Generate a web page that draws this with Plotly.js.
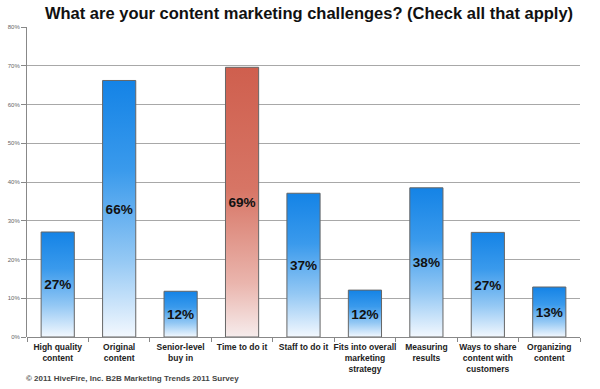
<!DOCTYPE html>
<html><head><meta charset="utf-8">
<script src="https://cdn.plot.ly/plotly-3.0.1.min.js"></script>
<style>html,body{margin:0;padding:0;background:#fff}#chart{width:600px;height:389px}</style>
</head><body><div id="chart"></div>
<script>
const categories = ["High quality<br>content","Original<br>content","Senior-level<br>buy in","Time to do it","Staff to do it","Fits into overall<br>marketing<br>strategy","Measuring<br>results","Ways to share<br>content with<br>customers","Organizing<br>content"];
const values = [27.1, 66.2, 11.8, 69.6, 37.1, 12.1, 38.5, 27.0, 12.9];
const pctLabels = ["27%","66%","12%","69%","37%","12%","38%","27%","13%"];
const highlight = [0,0,0,1,0,0,0,0,0];
const yTickVals = [0,10,20,30,40,50,60,70,80];
const yTickText = ["0%","10%","20%","30%","40%","50%","60%","70%","80%"];

const trace = {
  type: 'bar', x: categories, y: values, text: pctLabels,
  textposition: 'inside', insidetextanchor: 'middle', textangle: 0,
  textfont: {family: 'Liberation Sans, Arial, sans-serif', size: 15, color: '#111', weight: 'bold'},
  marker: {color: highlight.map(h => h ? '#d0604f' : '#1a86e6'), line: {color: '#666', width: 1}},
  hoverinfo: 'none', cliponaxis: false
};
const layout = {
  width: 600, height: 389,
  margin: {l: 27, r: 20, t: 27, b: 52},
  paper_bgcolor: '#fff', plot_bgcolor: '#fff',
  bargap: 0.46, showlegend: false,
  title: {text: '<b>What are your content marketing challenges? (Check all that apply)</b>',
    font: {family: 'Liberation Sans, Arial, sans-serif', size: 16.5, color: '#111'},
    x: 0.515, xanchor: 'center', y: 0.965, yanchor: 'middle'},
  xaxis: {tickfont: {family: 'Liberation Sans, Arial, sans-serif', size: 8.5, color: '#222', weight: 'bold'},
    tickangle: 0, automargin: false, ticklabelstandoff: 3,
    tickson: 'boundaries', ticks: 'outside', ticklen: 4, tickcolor: '#888',
    showline: false, showgrid: false, fixedrange: true},
  yaxis: {range: [0, 80], tickvals: yTickVals, ticktext: yTickText, automargin: false,
    tickfont: {family: 'Liberation Sans, Arial, sans-serif', size: 6, color: '#666'},
    ticks: 'outside', ticklen: 5, tickcolor: '#888',
    showline: true, linecolor: '#888', linewidth: 1,
    showgrid: true, gridcolor: '#a8a8a8', gridwidth: 1, zeroline: true, zerolinecolor: '#888', fixedrange: true},
  annotations: [{text: '<b>© 2011 HiveFire, Inc. B2B Marketing Trends 2011 Survey</b>', xref: 'paper', yref: 'paper',
    x: -0.005, y: -0.113, xanchor: 'left', yanchor: 'top', showarrow: false,
    font: {family: 'Liberation Sans, Arial, sans-serif', size: 8, color: '#444'}}]
};
Plotly.newPlot('chart', [trace], layout, {staticPlot: true, displayModeBar: false}).then(gd => {
  const svg = gd.querySelector('svg.main-svg');
  const ns = 'http://www.w3.org/2000/svg';
  let defs = svg.querySelector('defs');
  if (!defs) { defs = document.createElementNS(ns, 'defs'); svg.insertBefore(defs, svg.firstChild); }
  function grad(id, stops) {
    const g = document.createElementNS(ns, 'linearGradient');
    g.setAttribute('id', id); g.setAttribute('x1', '0'); g.setAttribute('y1', '0'); g.setAttribute('x2', '0'); g.setAttribute('y2', '1');
    stops.forEach(s => { const st = document.createElementNS(ns, 'stop'); st.setAttribute('offset', s[0]); st.setAttribute('stop-color', s[1]); g.appendChild(st); });
    defs.appendChild(g);
  }
  grad('gBlue', [['0', '#1483e6'], ['0.35', '#3a9aec'], ['0.7', '#94c8f4'], ['1', '#f3f8fe']]);
  grad('gRed', [['0', '#cf5f4e'], ['0.45', '#d77565'], ['0.8', '#eab5ad'], ['1', '#f6ecec']]);
  gd.querySelectorAll('.bars .point path').forEach((p, i) => {
    p.style.fill = highlight[i] ? 'url(#gRed)' : 'url(#gBlue)';
  });
});
</script></body></html>
